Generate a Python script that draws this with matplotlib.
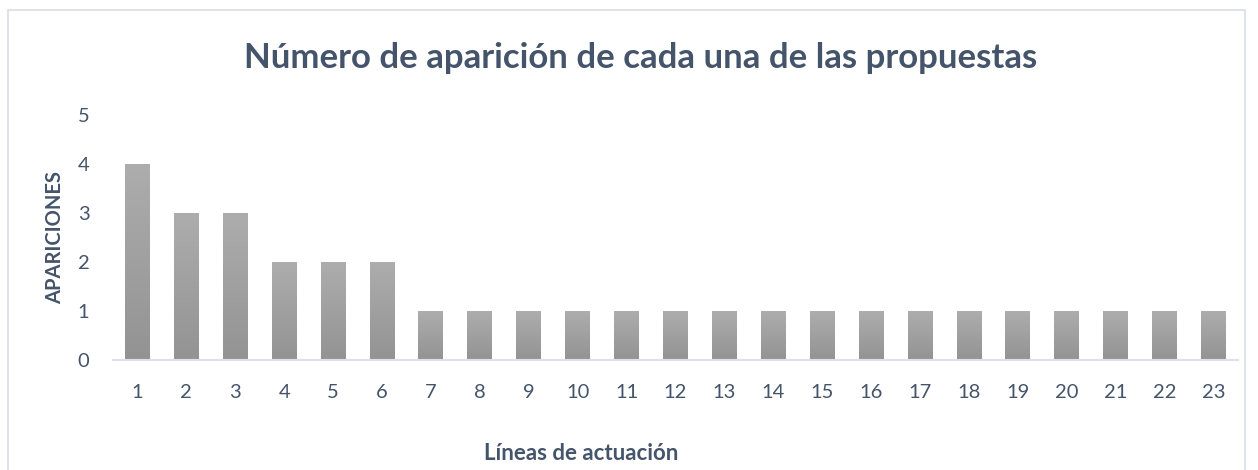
import numpy as np
import matplotlib.pyplot as plt
from matplotlib.patches import Rectangle

categorias = [str(i) for i in range(1, 24)]
apariciones = [4, 3, 3, 2, 2, 2] + [1] * 17

txt = '#44546A'
plt.rcParams['font.family'] = ['Lato', 'DejaVu Sans']

fig = plt.figure(figsize=(12.58, 4.70), dpi=100)
fig.patches.append(Rectangle((8 / 1258, -0.01), 1237 / 1258, 1 - 10 / 470 + 0.01,
                             transform=fig.transFigure, fill=False,
                             edgecolor='#D9DDE3', linewidth=1.2))
ax = fig.add_axes([113 / 1258, 1 - 360 / 470, 1125 / 1258, 245 / 470])

x = np.arange(len(categorias))
w = 0.51
bars = ax.bar(x, apariciones, width=w, color='none')
grad = np.linspace(0, 1, 256).reshape(-1, 1)
cmap = plt.matplotlib.colors.LinearSegmentedColormap.from_list('g', ['#939393', '#ADADAD'])
for b in bars:
    x0, y0 = b.get_x(), b.get_y()
    im = ax.imshow(grad, cmap=cmap, origin='lower', aspect='auto',
                   extent=[x0, x0 + b.get_width(), y0, y0 + b.get_height()], zorder=2)
    im.set_clip_path(b)

ax.set_xlim(-0.5, len(categorias) - 0.5)
ax.set_ylim(0, 5)
ax.set_xticks(x)
ax.set_xticklabels(categorias)
ax.set_yticks(range(6))
for s in ['top', 'right', 'left']:
    ax.spines[s].set_visible(False)
ax.spines['bottom'].set_color('#DDE1E6')
ax.spines['bottom'].set_linewidth(1.5)
ax.tick_params(axis='both', length=0, labelsize=14.5, colors=txt)
ax.tick_params(axis='x', pad=17)
ax.tick_params(axis='y', pad=17)

fig.text(641 / 1258, 1 - 58 / 470, 'Número de aparición de cada una de las propuestas',
         ha='center', va='center', fontsize=25, fontweight='bold', color=txt)
fig.text(55 / 1258, 1 - 237 / 470, 'APARICIONES', rotation=90, ha='center', va='center',
         fontsize=14.5, fontweight='bold', color=txt)
fig.text(581 / 1258, 1 - 453 / 470, 'Líneas de actuación', ha='center', va='center',
         fontsize=16, fontweight='bold', color=txt)

fig.savefig('out.png', dpi=100)
